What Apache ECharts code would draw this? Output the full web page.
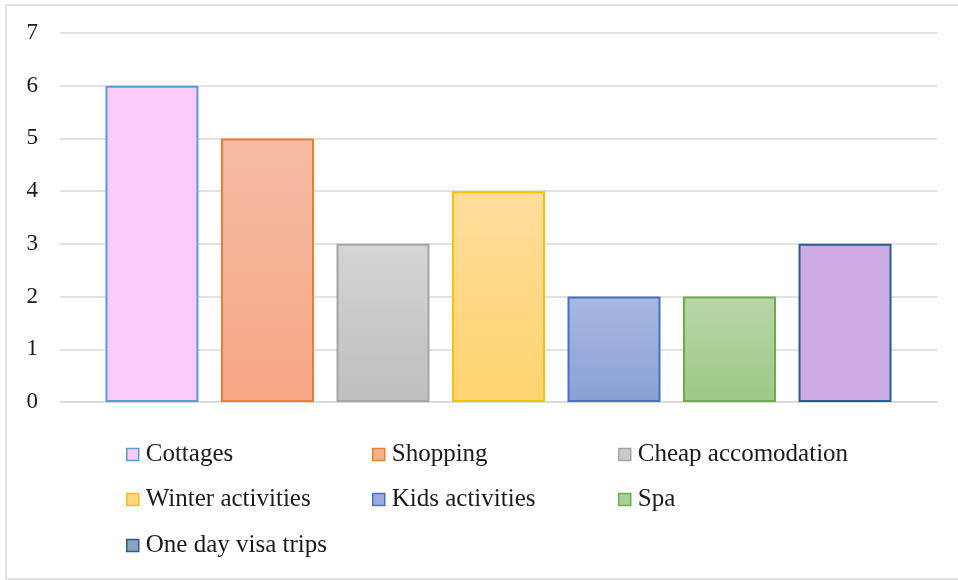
<!DOCTYPE html>
<html>
<head>
<meta charset="utf-8">
<script src="https://cdn.jsdelivr.net/npm/echarts@6/dist/echarts.min.js"></script>
<style>
  html, body { margin: 0; padding: 0; background: #fff; }
  #chart { width: 958px; height: 580px; }
</style>
</head>
<body>
<div id="chart"></div>
<script>
// Survey answers: one bar per motivation
const names = ['Cottages', 'Shopping', 'Cheap accomodation', 'Winter activities', 'Kids activities', 'Spa', 'One day visa trips'];
const values = [6, 5, 3, 4, 2, 2, 3];
const yTicks = [0, 1, 2, 3, 4, 5, 6, 7];

// Styling per series: gradient top/bottom, outline, legend swatch
const fillTop    = ['#FBCBFB', '#F5BDA5', '#D5D5D5', '#FFDD9C', '#A8B8E1', '#B7D7A8', '#CDACE3'];
const fillBottom = ['#FBCBFB', '#F6A683', '#BEBEBE', '#FFD46F', '#8AA1D7', '#9DC886', '#CDACE3'];
const outline    = ['#5B9BD5', '#ED7D31', '#A5A5A5', '#FFC000', '#4472C4', '#70AD47', '#255E91'];
const swatch     = ['#FBCBFB', '#F4B08F', '#C9C9C9', '#FFD887', '#9AADDC', '#AACF95', '#8EA0BB'];

const FONT = '"Liberation Serif", "DejaVu Serif", serif';

// Legend laid out in a 3-column grid
const legendCols = [126, 372, 618];
const legendRows = [442, 487, 533];

const chart = echarts.init(document.getElementById('chart'), null, { renderer: 'canvas' });

const series = names.map((n, i) => ({
  name: n,
  type: 'bar',
  data: [values[i]],
  barWidth: 93,
  barGap: '24.2%',
  itemStyle: {
    color: new echarts.graphic.LinearGradient(0, 0, 0, 1, [
      { offset: 0, color: fillTop[i] },
      { offset: 1, color: fillBottom[i] }
    ]),
    borderColor: outline[i],
    borderWidth: 2
  },
  emphasis: { disabled: true }
}));

const legends = names.map((n, i) => ({
  left: legendCols[i % 3],
  top: legendRows[Math.floor(i / 3)],
  data: [{ name: n, itemStyle: { color: swatch[i], borderColor: outline[i], borderWidth: 1.5 } }],
  icon: 'rect',
  itemWidth: 12,
  itemHeight: 12,
  itemGap: 0,
  padding: 0,
  selectedMode: false,
  textStyle: { fontFamily: FONT, fontSize: 25, color: '#1a1a1a', padding: [0, 0, 0, 2] }
}));

chart.setOption({
  animation: false,
  graphic: [{
    type: 'rect',
    shape: { x: 6, y: 5, width: 960, height: 574 },
    style: { fill: 'none', stroke: '#D9D9D9', lineWidth: 1.5 },
    silent: true,
    z: -1
  }],
  grid: { left: 60, right: 21, top: 33, bottom: 178 },
  xAxis: {
    type: 'category',
    data: [''],
    axisLine: { show: true, lineStyle: { color: '#D9D9D9', width: 1.5 } },
    axisTick: { show: false },
    axisLabel: { show: false }
  },
  yAxis: {
    type: 'value',
    min: yTicks[0],
    max: yTicks[yTicks.length - 1],
    interval: 1,
    axisLine: { show: false },
    axisTick: { show: false },
    splitLine: { lineStyle: { color: '#D9D9D9', width: 1.5 } },
    axisLabel: { fontFamily: FONT, fontSize: 23, color: '#1a1a1a', margin: 22 }
  },
  legend: legends,
  series: series
});
</script>
</body>
</html>
